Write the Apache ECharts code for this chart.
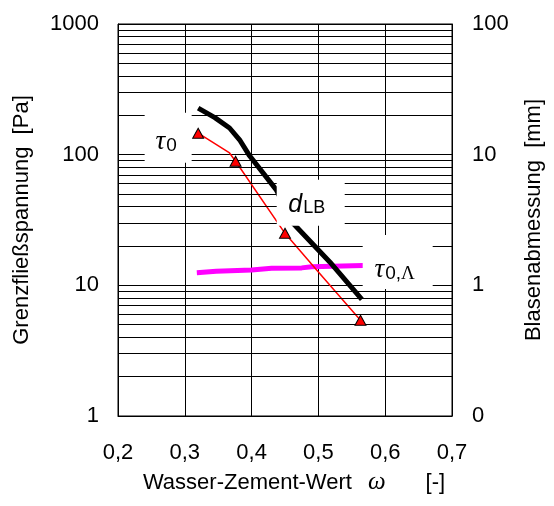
<!DOCTYPE html>
<html>
<head>
<meta charset="utf-8">
<script src="https://cdn.jsdelivr.net/npm/echarts@6/dist/echarts.min.js"></script>
<style>
  html, body { margin: 0; padding: 0; background: #fff; }
  #chart { width: 554px; height: 506px; }
</style>
</head>
<body>
<div id="chart"></div>
<script>
// Water/cement ratio (x) for each measured series
const wzTriangles = [0.32, 0.376, 0.45, 0.563];
const tau0Measured = [146, 89, 25, 5.4];            // yield stress [Pa]

const wzTau0Curve = [0.32, 0.367, 0.376, 0.45, 0.499, 0.563];
const tau0Curve = [146, 103, 89, 25, 12.8, 5.4];   // yield stress curve [Pa]

const wzBubble = [0.32, 0.345, 0.367, 0.382, 0.397, 0.437, 0.462, 0.517, 0.565];
const bubbleSize = [22.7, 19.2, 16.0, 13.0, 9.8, 5.38, 2.99, 1.51, 0.78]; // d_LB [mm]

const wzTauLambda = [0.318, 0.347, 0.40, 0.43, 0.475, 0.49, 0.567];
const tauLambda = [12.5, 12.8, 13.1, 13.5, 13.6, 13.9, 14.2];           // tau_0,Lambda [Pa]

// Axis ticks
const xTicks = [0.2, 0.3, 0.4, 0.5, 0.6, 0.7];
const leftTicks = [1, 10, 100, 1000];
const rightTicks = [0.1, 1, 10, 100];

// Curve captions (x, value on left axis)
const captionX = [0.2751, 0.4885, 0.6187];
const captionY = [134.7, 42.8, 15.1];

const zip = (xs, ys) => xs.map((x, i) => [x, ys[i]]);

// Minor log grid lines at 2..9 of each decade
const minorGrid = [];
for (let d = 1; d < 1000; d *= 10) {
  for (let k = 2; k <= 9; k++) minorGrid.push(k * d);
}

const SANS = '"Liberation Sans", Arial, sans-serif';
const SERIF = '"Liberation Serif", "Times New Roman", serif';

const chart = echarts.init(document.getElementById('chart'), null, { renderer: 'canvas' });

const boxSizes = [[47, 50], [68, 46], [70, 54]];
const labelOffsets = [[-2, 4], [-4, 2], [-3, 8]];
const captionTexts = [
  '{t|τ}{s|0}',
  '{d|d}{lb|LB}',
  '{t|τ}{s|0,}{L|Λ}'
];

const option = {
  animation: false,
  backgroundColor: '#fff',
  textStyle: { fontFamily: SANS, color: '#000' },
  grid: {
    left: 118, right: 102, top: 24, bottom: 90,
    containLabel: false,
    outerBoundsMode: 'none',
    show: true, borderColor: '#000', borderWidth: 1, backgroundColor: '#fff'
  },
  xAxis: {
    type: 'value',
    min: xTicks[0], max: xTicks[xTicks.length - 1], interval: 0.1,
    name: '{a|Wasser-Zement-Wert}{w|ω}{b|[-]}',
    nameLocation: 'middle', nameGap: 54,
    nameTextStyle: {
      fontSize: 22, color: '#000', fontFamily: SANS, padding: [0, 0, 0, 18],
      rich: {
        a: { fontFamily: SANS, fontSize: 22, color: '#000' },
        w: { fontFamily: SERIF, fontStyle: 'italic', fontSize: 25, color: '#000', padding: [0, 0, 0, 16] },
        b: { fontFamily: SANS, fontSize: 22, color: '#000', padding: [0, 0, 0, 40] }
      }
    },
    axisLine: { lineStyle: { color: '#000', width: 1 } },
    axisTick: { show: false },
    axisLabel: {
      fontSize: 22, color: '#000', margin: 26,
      formatter: v => v.toFixed(1).replace('.', ',')
    },
    splitLine: { show: true, lineStyle: { color: '#000', width: 1 } }
  },
  yAxis: [
    {
      type: 'log', logBase: 10,
      min: leftTicks[0], max: leftTicks[leftTicks.length - 1],
      position: 'left',
      name: 'Grenzfließspannung  [Pa]',
      nameLocation: 'middle', nameGap: 85, nameRotate: 90,
      nameTextStyle: { fontSize: 22, color: '#000', fontFamily: SANS },
      axisLine: { show: true, lineStyle: { color: '#000', width: 1 } },
      axisTick: { show: false },
      axisLabel: {
        fontSize: 22, color: '#000', margin: 19,
        formatter: v => String(Math.round(v))
      },
      splitLine: { show: true, lineStyle: { color: '#000', width: 1 } }
    },
    {
      type: 'log', logBase: 10,
      min: rightTicks[0], max: rightTicks[rightTicks.length - 1],
      position: 'right',
      name: 'Blasenabmessung  [mm]',
      nameLocation: 'middle', nameGap: 71, nameRotate: 90,
      nameTextStyle: { fontSize: 22, color: '#000', fontFamily: SANS },
      axisLine: { show: true, lineStyle: { color: '#000', width: 1 } },
      axisTick: { show: false },
      axisLabel: {
        fontSize: 22, color: '#000', margin: 20,
        formatter: v => (v < 0.5 ? '0' : String(Math.round(v)))
      },
      splitLine: { show: false }
    }
  ],
  series: [
    {
      name: 'minor-grid',
      type: 'line',
      yAxisIndex: 0,
      data: [],
      silent: true,
      z: 1,
      markLine: {
        silent: true,
        symbol: ['none', 'none'],
        label: { show: false },
        emphasis: { disabled: true },
        lineStyle: { color: '#000', width: 1, type: 'solid' },
        data: minorGrid.map(v => ({ yAxis: v }))
      }
    },
    {
      name: 'tau0Lambda',
      type: 'line',
      yAxisIndex: 0,
      data: zip(wzTauLambda, tauLambda),
      showSymbol: false,
      lineStyle: { color: '#ff00ff', width: 5 },
      z: 3
    },
    {
      name: 'dLB',
      type: 'line',
      yAxisIndex: 1,
      data: zip(wzBubble, bubbleSize),
      showSymbol: false,
      lineStyle: { color: '#000', width: 5 },
      z: 3
    },
    {
      name: 'tau0-curve',
      type: 'line',
      yAxisIndex: 0,
      data: zip(wzTau0Curve, tau0Curve),
      showSymbol: false,
      lineStyle: { color: '#ff0000', width: 1.5 },
      z: 4
    },
    {
      name: 'tau0',
      type: 'scatter',
      yAxisIndex: 0,
      data: zip(wzTriangles, tau0Measured),
      symbol: 'triangle',
      symbolSize: [11, 10],
      itemStyle: { color: '#ff0000', borderColor: '#000', borderWidth: 1, opacity: 1 },
      z: 5
    },
    {
      name: 'captions',
      type: 'scatter',
      yAxisIndex: 0,
      silent: true,
      data: captionX.map((x, i) => ({
        value: [x, captionY[i]],
        symbolSize: boxSizes[i],
        label: { offset: labelOffsets[i], formatter: captionTexts[i] }
      })),
      symbol: 'rect',
      itemStyle: { color: '#fff', opacity: 1 },
      z: 10,
      label: {
        show: true,
        position: 'inside',
        color: '#000',
        rich: {
          t: { fontFamily: SERIF, fontStyle: 'italic', fontSize: 27, color: '#000' },
          s: { fontFamily: SANS, fontSize: 19, color: '#000', padding: [8, 0, 0, 1] },
          L: { fontFamily: SERIF, fontSize: 19, color: '#000', padding: [8, 0, 0, 0] },
          d: { fontFamily: SANS, fontStyle: 'italic', fontSize: 25, color: '#000' },
          lb: { fontFamily: SANS, fontSize: 18, color: '#000', padding: [6, 0, 0, 1] }
        }
      }
    }
  ]
};

chart.setOption(option);
</script>
</body>
</html>
